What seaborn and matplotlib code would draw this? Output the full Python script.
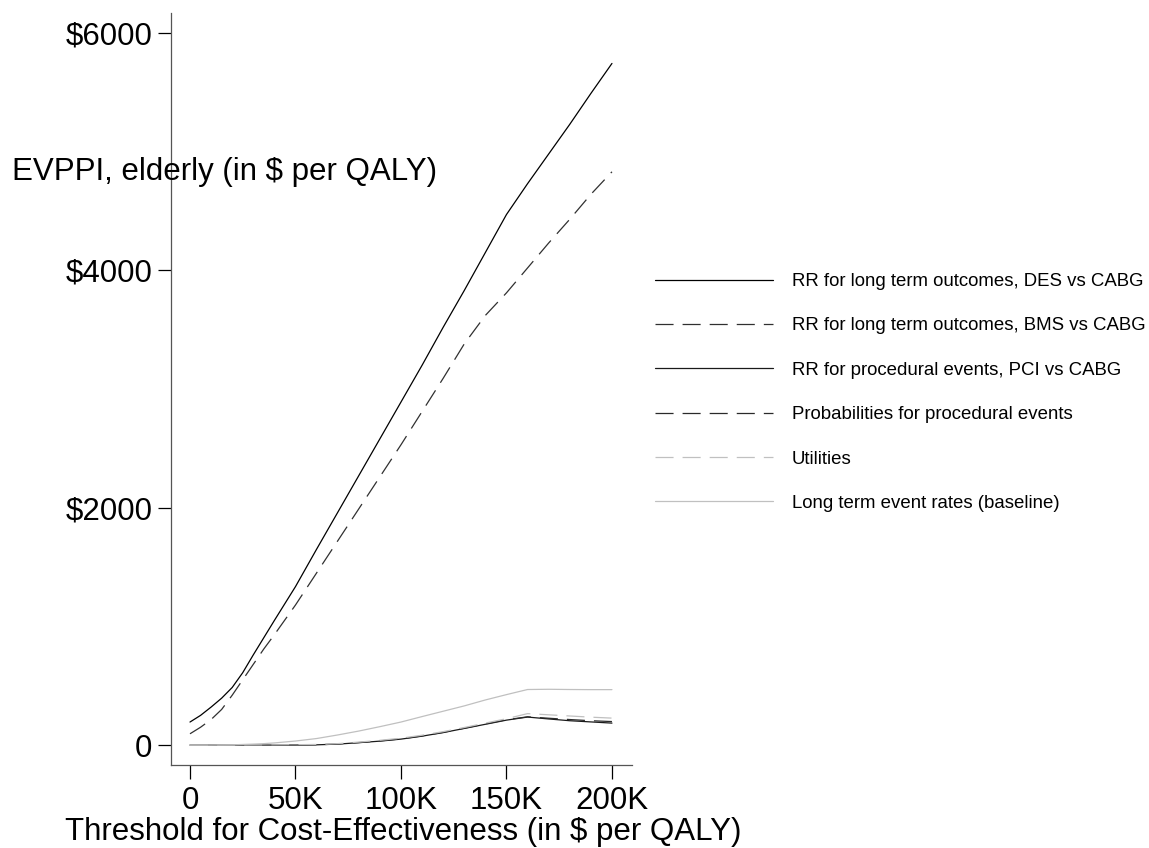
import matplotlib
matplotlib.use("Agg")
import matplotlib.pyplot as plt
import seaborn as sns
import pandas as pd

sns.set_style("white")
plt.rcParams['font.family'] = ['Liberation Sans', 'DejaVu Sans']
plt.rcParams['lines.scale_dashes'] = False
plt.rcParams['text.color'] = 'black'
plt.rcParams['xtick.color'] = 'black'
plt.rcParams['ytick.color'] = 'black'

thresholds = [0, 5000, 10000, 15000, 20000, 25000, 30000, 35000, 40000, 50000, 60000,
              70000, 80000, 90000, 100000, 110000, 120000, 130000, 140000, 150000,
              160000, 170000, 180000, 190000, 200000]

rr_des = [194, 250, 320, 395, 485, 610, 760, 905, 1050, 1335, 1650,
          1960, 2270, 2580, 2890, 3200, 3520, 3830, 4150, 4470,
          4730, 4980, 5230, 5490, 5743]
rr_bms = [95, 150, 215, 300, 420, 550, 680, 810, 930, 1180, 1450,
          1720, 1990, 2260, 2530, 2810, 3090, 3380, 3620, 3810,
          4020, 4230, 4430, 4640, 4830]
rr_pci = [0, 0, 0, 0, 0, 0, 0, 0, 0, 0, 2,
          8, 20, 33, 50, 75, 105, 140, 175, 210,
          236, 220, 205, 195, 185]
prob_proc = [0, 0, 0, 0, 0, 0, 0, 0, 0, 0, 2,
             9, 21, 35, 52, 77, 107, 142, 178, 213,
             238, 226, 215, 205, 198]
utilities = [0, 0, 0, 0, 0, 0, 1, 1, 2, 3, 5,
             12, 25, 40, 58, 83, 113, 148, 185, 222,
             265, 255, 245, 235, 227]
long_term = [0, 0, 0, 1, 2, 5, 8, 12, 18, 34, 55,
             85, 118, 155, 194, 240, 285, 330, 380, 425,
             468, 470, 468, 467, 467]

labels = ["RR for long term outcomes, DES vs CABG",
          "RR for long term outcomes, BMS vs CABG",
          "RR for procedural events, PCI vs CABG",
          "Probabilities for procedural events",
          "Utilities",
          "Long term event rates (baseline)"]
series = [rr_des, rr_bms, rr_pci, prob_proc, utilities, long_term]
colors = ["#000000", "#303030", "#1a1a1a", "#2a2a2a", "#c0c0c0", "#c0c0c0"]
dashed = [False, True, False, True, True, False]

xticks = [0, 50000, 100000, 150000, 200000]
xticklabels = ["0", "50K", "100K", "150K", "200K"]
yticks = [0, 2000, 4000, 6000]
yticklabels = ["0", "$2000", "$4000", "$6000"]

W, H = 1149, 848
FS = 22.5
fig = plt.figure(figsize=(W / 100, H / 100), dpi=100)
ax = fig.add_axes([171 / W, 1 - 765 / H, (632 - 171) / W, (765 - 13) / H])

handles = []
for lab, vals, col, d in zip(labels, series, colors, dashed):
    df = pd.DataFrame({"x": thresholds, "y": vals})
    sns.lineplot(data=df, x="x", y="y", ax=ax, color=col, linewidth=0.9, label=lab)
    ln = ax.get_lines()[-1]
    if d:
        ln.set_dashes((13, 6.5))
    handles.append(ln)

ax.set_xlim(-9000, 209500)
ax.set_ylim(-168, 6168)
ax.set_xticks(xticks)
ax.set_xticklabels(xticklabels, fontsize=FS)
ax.set_yticks(yticks)
ax.set_yticklabels(yticklabels, fontsize=FS)
ax.tick_params(axis='x', length=10, width=0.9, pad=5, direction='out', bottom=True)
ax.tick_params(axis='y', length=9.5, width=0.9, pad=4, direction='out', left=True)
for s in ['top', 'right']:
    ax.spines[s].set_visible(False)
for s in ['left', 'bottom']:
    ax.spines[s].set_color('#555555')
    ax.spines[s].set_linewidth(0.9)
ax.set_xlabel("")
ax.set_ylabel("")
ax.get_legend().remove()

fig.text(12 / W, 1 - 180 / H, "EVPPI, elderly (in $ per QALY)", fontsize=FS, ha='left', va='baseline')
fig.text(403 / W, 1 - 840 / H, "Threshold for Cost-Effectiveness (in $ per QALY)", fontsize=FS,
         ha='center', va='baseline')

fig.legend(handles=handles, labels=labels, loc='upper left',
           bbox_to_anchor=(655 / W, 1 - 273 / H), frameon=False, fontsize=13.4,
           handlelength=6.34, handletextpad=1.02, labelspacing=1.47, borderpad=0, borderaxespad=0)

fig.savefig("out.png", dpi=100)
